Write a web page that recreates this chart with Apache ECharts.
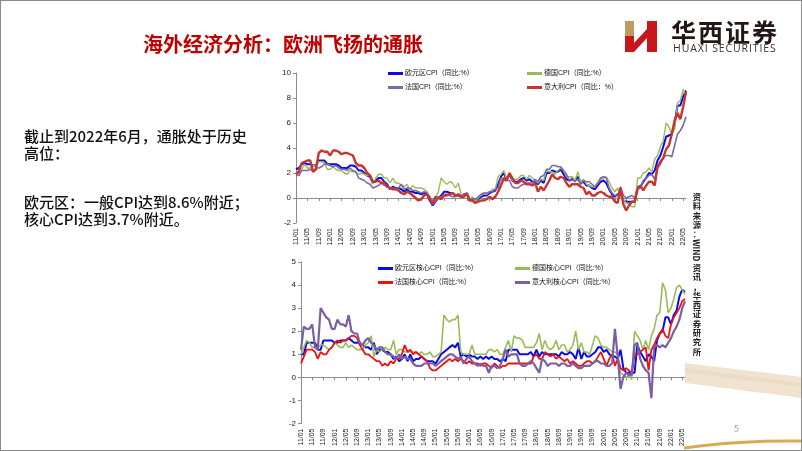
<!DOCTYPE html>
<html>
<head>
<meta charset="utf-8">
<script src="https://cdn.jsdelivr.net/npm/echarts@6/dist/echarts.min.js"></script>
<style>
  html, body { margin: 0; padding: 0; background: #fff; }
  #slide { position: relative; width: 802px; height: 451px; overflow: hidden; font-family: "Noto Sans CJK SC", sans-serif; }
  #chart { position: absolute; left: 0; top: 0; width: 802px; height: 451px; }
  .txt { position: absolute; white-space: nowrap; }
  #frame { position: absolute; left: 0; top: 0; width: 802px; height: 451px; box-sizing: border-box; border: 1px solid #8a8a8a; pointer-events: none; }
  #source { display: flex; flex-direction: column; align-items: center; width: 12px; font-size: 8.3px; line-height: 9.3px; font-weight: bold; color: #222; }
  #source .side { writing-mode: vertical-rl; line-height: 12px; margin: 1px 0; }
</style>
</head>
<body>
<div id="slide">
  <svg class="txt" style="left:684px;top:356px" width="118" height="95">
    <polygon points="1,7 118,21 118,42 1,27" fill="#f0e4d1" />
    <polygon points="1,12 118,27 118,31 1,17" fill="#e9dac2" opacity="0.7" />
    <path d="M0,92 Q60,84 118,85" stroke="#d8a957" stroke-width="3" fill="none" />
  </svg>
  <div id="chart"></div>
  <div class="txt" style="left:143px;top:32px;font-size:20px;font-weight:bold;color:#c00000;line-height:24px">海外经济分析：欧洲飞扬的通胀</div>
  <svg class="txt" style="left:623px;top:19px" width="38" height="36">
    <polygon points="2,2 11,2 11,17 2,17" fill="#c09a5e" />
    <polygon points="2,17 11,17 11,33 2,33" fill="#c8161d" />
    <polygon points="11,24 24,10 24,19 11,33" fill="#c8161d" />
    <polygon points="24,2 34,2 34,33 24,33" fill="#c8161d" />
  </svg>
  <div class="txt" style="left:671px;top:16px;font-size:25px;font-weight:bold;color:#231815;letter-spacing:2px;line-height:30px">华西证券</div>
  <div class="txt" style="left:673px;top:42px;font-size:10.5px;color:#333;letter-spacing:0.9px;line-height:12px;font-family:'Open Sans',sans-serif">HUAXI SECURITIES</div>
  <div class="txt" style="left:24px;top:127px;font-size:15px;line-height:17px;font-weight:500;color:#111">截止到2022年6月，通胀处于历史<br>高位：</div>
  <div class="txt" style="left:24px;top:193px;font-size:15px;line-height:17px;font-weight:500;color:#111">欧元区：一般CPI达到8.6%附近；<br>核心CPI达到3.7%附近。</div>
  <div id="source" class="txt" style="left:691px;top:192px">
    <span>资</span><span>料</span><span>来</span><span>源</span><span>：</span>
    <span class="side">WIND</span>
    <span>资</span><span>讯</span><span>，</span><span>华</span><span>西</span><span>证</span><span>券</span><span>研</span><span>究</span><span>所</span>
  </div>
  <div class="txt" style="left:734px;top:422px;font-size:9px;color:#999">5</div>
  <div id="frame"></div>
</div>
<script>
// 月份 11/01 ... 22/06
var months = []
for (var y = 11; y <= 22; y++) {
  for (var m = 1; m <= 12; m++) {
    if (y === 22 && m > 6) break
    months.push(y + '/' + (m < 10 ? '0' + m : m))
  }
}

// 上图：CPI 同比 (%)
var euroCpi = [
  2.3, 2.4, 2.7, 2.8, 2.7, 2.7, 2.6, 2.6, 3.0, 3.0, 3.0, 2.7,
  2.7, 2.7, 2.7, 2.6, 2.4, 2.4, 2.4, 2.6, 2.6, 2.5, 2.2, 2.2,
  2.0, 1.8, 1.7, 1.2, 1.4, 1.6, 1.6, 1.3, 1.1, 0.7, 0.9, 0.8,
  0.8, 0.7, 0.5, 0.7, 0.5, 0.5, 0.4, 0.4, 0.3, 0.4, 0.3, -0.2,
  -0.6, -0.3, 0.0, 0.2, 0.5, 0.5, 0.4, 0.4, 0.2, 0.2, 0.1, 0.3,
  0.3, -0.2, 0.0, -0.2, -0.1, 0.1, 0.2, 0.2, 0.4, 0.5, 0.6, 1.1,
  1.7, 2.0, 1.5, 1.9, 1.4, 1.3, 1.3, 1.5, 1.6, 1.4, 1.5, 1.3,
  1.3, 1.1, 1.4, 1.2, 2.0, 2.0, 2.2, 2.1, 2.1, 2.3, 1.9, 1.5,
  1.4, 1.5, 1.4, 1.7, 1.2, 1.3, 1.0, 1.0, 0.8, 0.7, 1.0, 1.3,
  1.4, 1.2, 0.7, 0.3, 0.1, 0.3, 0.4, -0.2, -0.3, -0.3, -0.3, -0.3,
  0.9, 0.9, 1.3, 1.6, 2.0, 1.9, 2.2, 3.0, 3.4, 4.1, 4.9, 5.0,
  5.1, 5.9, 7.4, 7.4, 8.1, 8.6
]
var germanyCpi = [
  2.0, 2.2, 2.3, 2.7, 2.4, 2.4, 2.6, 2.5, 2.9, 2.9, 2.8, 2.3,
  2.3, 2.5, 2.3, 2.2, 2.2, 2.0, 1.9, 2.2, 2.1, 2.1, 1.9, 2.0,
  1.9, 1.8, 1.8, 1.1, 1.6, 1.9, 1.9, 1.6, 1.6, 1.2, 1.6, 1.2,
  1.2, 1.0, 0.9, 1.1, 0.6, 1.0, 0.8, 0.8, 0.8, 0.7, 0.5, 0.1,
  -0.5, 0.0, 0.5, 1.6, 1.3, 1.1, 1.3, 1.2, 0.8, 1.2, 0.3, 0.2,
  0.4, -0.2, 0.1, -0.3, 0.0, 0.2, 0.4, 0.3, 0.5, 0.7, 0.7, 1.7,
  1.9, 2.2, 1.5, 2.0, 1.4, 1.5, 1.5, 1.8, 1.8, 1.5, 1.8, 1.6,
  1.4, 1.2, 1.5, 1.4, 2.2, 2.1, 2.1, 1.9, 2.2, 2.4, 2.2, 1.7,
  1.7, 1.7, 1.4, 2.1, 1.3, 1.5, 1.1, 1.0, 0.9, 0.9, 1.2, 1.5,
  1.6, 1.7, 1.3, 0.8, 0.5, 0.8, 0.0, -0.1, -0.4, -0.5, -0.7, -0.7,
  1.6, 1.6, 2.0, 2.1, 2.4, 2.1, 3.1, 3.4, 4.1, 4.6, 6.0, 5.7,
  5.1, 5.5, 7.6, 7.8, 8.7, 8.2
]
var franceCpi = [
  1.8, 1.8, 2.2, 2.2, 2.2, 2.3, 2.1, 2.4, 2.4, 2.5, 2.7, 2.7,
  2.6, 2.5, 2.6, 2.4, 2.3, 2.3, 2.2, 2.4, 2.2, 2.1, 1.6, 1.5,
  1.4, 1.2, 1.1, 0.8, 0.9, 1.0, 1.2, 1.0, 1.0, 0.7, 0.8, 0.8,
  0.8, 1.1, 0.7, 0.8, 0.8, 0.6, 0.6, 0.5, 0.4, 0.5, 0.4, 0.1,
  -0.4, -0.3, 0.0, 0.1, 0.3, 0.3, 0.2, 0.1, 0.1, 0.2, 0.1, 0.3,
  0.3, -0.1, -0.1, -0.1, 0.1, 0.3, 0.4, 0.4, 0.5, 0.5, 0.7, 0.8,
  1.6, 1.4, 1.4, 1.4, 0.9, 0.8, 0.8, 1.0, 1.1, 1.2, 1.2, 1.2,
  1.5, 1.3, 1.7, 1.8, 2.3, 2.3, 2.6, 2.6, 2.5, 2.5, 2.2, 1.9,
  1.4, 1.6, 1.3, 1.5, 1.1, 1.4, 1.3, 1.3, 1.1, 0.9, 1.2, 1.6,
  1.7, 1.6, 0.8, 0.4, 0.2, 0.2, 0.9, 0.2, 0.0, 0.1, 0.2, 0.0,
  0.8, 0.8, 1.4, 1.6, 1.8, 1.9, 1.5, 2.4, 2.7, 3.2, 3.4, 3.4,
  3.3, 4.2, 5.1, 5.4, 5.8, 6.5
]
var italyCpi = [
  1.9, 2.1, 2.8, 2.9, 3.0, 3.0, 2.1, 2.3, 3.6, 3.8, 3.7, 3.7,
  3.4, 3.8, 3.8, 3.7, 3.5, 3.6, 3.6, 3.5, 3.4, 2.8, 2.6, 2.6,
  2.4, 2.0, 1.8, 1.3, 1.3, 1.4, 1.2, 1.2, 0.9, 0.8, 0.7, 0.7,
  0.6, 0.4, 0.3, 0.5, 0.4, 0.2, 0.0, -0.2, -0.1, 0.2, 0.3, -0.1,
  -0.5, 0.1, 0.0, -0.1, 0.2, 0.2, 0.3, 0.4, 0.2, 0.3, 0.1, 0.1,
  0.4, -0.2, -0.2, -0.4, -0.3, -0.2, -0.2, -0.1, 0.1, -0.1, 0.1, 0.5,
  1.0, 1.6, 1.4, 2.0, 1.6, 1.2, 1.2, 1.4, 1.3, 1.1, 1.1, 1.0,
  1.2, 0.5, 0.9, 0.6, 1.0, 1.4, 1.9, 1.6, 1.5, 1.7, 1.6, 1.2,
  0.9, 1.1, 1.1, 1.1, 0.9, 0.8, 0.3, 0.5, 0.2, 0.2, 0.4, 0.5,
  0.4, 0.2, 0.1, 0.1, -0.3, -0.4, 0.8, -0.5, -1.0, -0.6, -0.3, -0.3,
  0.7, 1.0, 0.6, 1.0, 1.3, 1.3, 1.0, 2.5, 2.9, 3.2, 3.9, 4.2,
  5.1, 6.2, 6.8, 6.3, 7.3, 8.5
]

// 下图：核心CPI 同比 (%)
var euroCore = [
  1.0, 1.0, 1.5, 1.5, 1.5, 1.5, 1.2, 1.2, 1.6, 1.6, 1.6, 1.6,
  1.5, 1.5, 1.6, 1.6, 1.6, 1.7, 1.6, 1.5, 1.5, 1.5, 1.4, 1.3,
  1.3, 1.2, 1.5, 1.0, 1.2, 1.2, 1.1, 1.1, 1.0, 0.8, 0.9, 0.7,
  0.8, 1.0, 0.7, 1.0, 0.7, 0.8, 0.8, 0.9, 0.8, 0.7, 0.7, 0.7,
  0.6, 0.8, 1.0, 1.1, 1.2, 1.3, 1.4, 1.3, 1.5, 0.9, 1.0, 0.9,
  1.0, 0.9, 0.9, 0.8, 0.9, 0.8, 0.9, 0.8, 0.9, 0.8, 0.8, 0.7,
  0.8, 0.7, 1.2, 1.2, 1.2, 1.2, 1.0, 1.0, 1.0, 1.0, 1.1, 0.9,
  1.2, 0.9, 1.1, 1.0, 1.0, 1.0, 1.0, 1.0, 0.9, 1.1, 1.0, 1.0,
  1.1, 1.0, 0.8, 1.3, 0.8, 1.1, 0.9, 0.9, 1.0, 1.1, 1.3, 1.3,
  1.1, 1.2, 1.0, 0.9, 0.9, 0.8, 1.2, 0.4, 0.2, 0.2, 0.2, 0.2,
  1.4, 1.1, 0.9, 0.7, 1.0, 0.9, 0.7, 1.6, 1.9, 2.0, 2.6, 2.6,
  2.3, 2.7, 2.9, 3.5, 3.8, 3.7
]
var germanyCore = [
  1.0, 1.3, 1.6, 1.5, 1.3, 1.3, 1.3, 1.4, 1.4, 1.3, 1.2, 1.3,
  1.5, 1.4, 1.3, 1.3, 1.5, 1.3, 1.4, 1.3, 1.2, 1.2, 1.2, 1.4,
  1.5, 1.8, 0.9, 1.2, 1.1, 1.2, 1.3, 1.2, 1.2, 1.6, 1.0, 1.2,
  1.2, 1.1, 1.1, 1.1, 1.1, 1.1, 1.0, 1.1, 1.0, 1.0, 1.1, 0.9,
  0.9, 1.0, 1.1, 2.7, 2.5, 2.4, 2.5, 2.5, 2.7, 1.1, 1.0, 1.0,
  1.0, 1.4, 1.0, 1.0, 1.0, 1.0, 1.0, 1.2, 1.2, 1.1, 1.2, 1.0,
  1.0, 1.3, 1.6, 1.1, 1.8, 1.7, 1.7, 1.6, 1.3, 1.3, 1.3, 1.3,
  1.5, 1.9, 1.2, 1.6, 1.3, 1.2, 1.3, 1.6, 1.2, 1.4, 1.4, 1.1,
  1.2, 1.4, 2.0, 1.2, 1.5, 1.1, 1.1, 1.0, 1.4, 1.8, 1.7, 1.4,
  1.3, 1.3, 1.2, 1.1, 1.1, 1.0, 0.2, 0.1, 0.0, 0.1, -0.1, 2.0,
  1.8, 1.6, 1.2, 1.6, 1.2, 1.8, 2.1, 2.7, 2.8, 4.1, 3.8, 2.8,
  3.0, 3.4, 3.9, 4.0, 3.8, 3.6
]
var franceCore = [
  0.6, 0.9, 1.2, 1.2, 1.2, 1.1, 0.8, 1.1, 1.0, 1.0, 1.2, 1.3,
  1.5, 1.6, 1.5, 1.6, 1.6, 1.7, 1.8, 1.8, 1.7, 1.4, 1.2, 1.0,
  1.0, 0.9, 0.8, 0.7, 0.7, 0.5, 0.6, 0.5, 0.7, 0.6, 0.8, 0.8,
  1.0, 1.4, 1.1, 1.2, 1.0, 1.1, 1.0, 0.9, 0.8, 0.7, 0.4, 0.3,
  0.3, 0.4, 0.5, 0.6, 0.7, 0.8, 0.7, 0.8, 0.7, 0.8, 0.7, 0.6,
  0.7, 0.6, 0.6, 0.6, 0.5, 0.6, 0.6, 0.5, 0.4, 0.6, 0.5, 0.4,
  0.5, 0.5, 0.6, 0.6, 0.6, 0.6, 0.6, 0.6, 0.6, 0.6, 0.6, 0.9,
  1.0, 0.8, 0.8, 1.1, 1.0, 0.9, 1.0, 0.8, 0.9, 0.8, 0.7, 0.8,
  0.6, 0.7, 0.6, 0.5, 0.5, 0.6, 0.7, 0.7, 0.6, 0.7, 0.9, 1.1,
  0.8, 0.5, 0.8, 1.0, 0.5, 0.8, 0.4, 0.3, 0.4, 0.3, 0.2, 1.0,
  1.0, 1.1, 1.2, 1.3, 0.3, 1.2, 1.4, 1.7, 1.9, 2.1, 1.8, 1.7,
  2.3, 2.6, 2.8, 3.0, 3.3, 3.4
]
var italyCore = [
  1.2, 2.2, 2.1, 2.1, 2.3, 1.3, 1.2, 3.0, 2.8, 2.6, 2.5, 2.1,
  2.1, 2.5, 2.3, 2.3, 2.2, 2.7, 2.0, 1.9, 1.9, 1.5, 1.4, 1.6,
  1.7, 1.5, 1.4, 1.2, 1.3, 1.3, 1.1, 1.0, 1.0, 0.9, 0.8, 1.0,
  0.8, 0.9, 0.8, 0.8, 0.6, 0.5, 0.5, 0.5, 0.6, 0.6, 0.6, 0.6,
  0.5, 0.6, 0.7, 0.8, 0.9, 1.0, 1.0, 0.9, 0.8, 0.9, 0.6, 0.8,
  0.9, 0.7, 0.6, 0.5, 0.6, 0.5, 0.5, 0.2, 0.5, 0.5, 0.4, 0.5,
  0.8, 1.2, 0.9, 1.0, 1.0, 1.0, 0.6, 0.5, 0.5, 0.6, 0.7, 0.6,
  0.4, 0.2, 0.8, 0.7, 0.5, 0.6, 0.6, 0.6, 0.5, 0.6, 0.6, 0.5,
  0.5, 0.6, 0.5, 0.4, 0.4, 0.5, 0.5, 0.5, 0.6, 0.7, 0.7, 0.6,
  0.6, 0.5, 0.5, 0.6, 2.1, 0.9, -0.5, 0.0, 0.2, 0.1, 0.1, 1.4,
  1.5, 0.8, 0.5, 0.3, 0.2, -0.9, 1.3, 1.4, 1.3, 1.4, 1.3, 1.5,
  1.7, 2.0, 2.2, 2.5, 3.0, 3.3
]

var topTicks = { min: -2, max: 10, interval: 2 }
var bottomTicks = { min: -2, max: 5, interval: 1 }

var axisGray = '#8c8c8c'
var labelFont = 'Liberation Sans, Arial, Noto Sans CJK SC, sans-serif'

function lineSeries(name, data, color, width, axisIdx) {
  return {
    name: name,
    type: 'line',
    data: data,
    xAxisIndex: axisIdx * 2,
    yAxisIndex: axisIdx,
    symbol: 'none',
    showSymbol: false,
    animation: false,
    itemStyle: { color: color },
    lineStyle: { color: color, width: width }
  }
}

function labelAxis(grid) {
  return {
    gridIndex: grid,
    type: 'category',
    data: months,
    boundaryGap: false,
    axisLine: { show: false, onZero: false },
    axisTick: { show: false },
    axisLabel: { rotate: 90, interval: 3, fontSize: 7, margin: 5, color: '#222', fontFamily: labelFont }
  }
}

function zeroAxis(grid) {
  return {
    gridIndex: grid,
    type: 'category',
    data: months,
    boundaryGap: false,
    position: 'bottom',
    axisLine: { show: true, onZero: true, onZeroAxisIndex: grid, lineStyle: { color: axisGray, width: 1 } },
    axisTick: { show: true, interval: 3, length: 3, lineStyle: { color: axisGray } },
    axisLabel: { show: false },
    splitLine: { show: false }
  }
}

function valueAxis(grid, ticks) {
  return {
    gridIndex: grid,
    type: 'value',
    min: ticks.min,
    max: ticks.max,
    interval: ticks.interval,
    axisLine: { show: true, lineStyle: { color: axisGray } },
    axisTick: { show: true, length: 3, lineStyle: { color: axisGray } },
    splitLine: { show: false },
    axisLabel: { fontSize: 8, margin: 5, color: '#222', fontFamily: labelFont }
  }
}

function legendBox(names, left, top) {
  return {
    data: names,
    orient: 'vertical',
    left: left,
    top: top,
    icon: 'rect',
    itemWidth: 15,
    itemHeight: 3,
    itemGap: 5,
    selectedMode: false,
    textStyle: { fontSize: 7, lineHeight: 9, color: '#111', fontFamily: labelFont, padding: [0, 0, 0, -3] }
  }
}

var chart = echarts.init(document.getElementById('chart'))
chart.setOption({
  animation: false,
  textStyle: { fontFamily: labelFont },
  grid: [
    { left: 296, top: 73, width: 390, height: 150 },
    { left: 301, top: 262, width: 384, height: 161.5 }
  ],
  xAxis: [labelAxis(0), zeroAxis(0), labelAxis(1), zeroAxis(1)],
  yAxis: [valueAxis(0, topTicks), valueAxis(1, bottomTicks)],
  legend: [
    legendBox(['欧元区CPI（同比:%）', '法国CPI（同比:%）'], 383, 64),
    legendBox(['德国CPI（同比:%）', '意大利CPI（同比：%）'], 522, 64),
    legendBox(['欧元区核心CPI（同比:%）', '法国核心CPI（同比:%）'], 373, 259),
    legendBox(['德国核心CPI（同比:%）', '意大利核心CPI（同比:%）'], 510, 259)
  ],
  series: [
    lineSeries('欧元区CPI（同比:%）', euroCpi, '#0a0aee', 2, 0),
    lineSeries('德国CPI（同比:%）', germanyCpi, '#9bbb59', 1.4, 0),
    lineSeries('法国CPI（同比:%）', franceCpi, '#8068a6', 1.6, 0),
    lineSeries('意大利CPI（同比：%）', italyCpi, '#c8352e', 2.4, 0),
    lineSeries('欧元区核心CPI（同比:%）', euroCore, '#0a0aee', 2, 1),
    lineSeries('德国核心CPI（同比:%）', germanyCore, '#9bbb59', 1.6, 1),
    lineSeries('法国核心CPI（同比:%）', franceCore, '#f01010', 1.8, 1),
    lineSeries('意大利核心CPI（同比:%）', italyCore, '#7a60a2', 2.2, 1)
  ]
})
</script>
</body>
</html>
